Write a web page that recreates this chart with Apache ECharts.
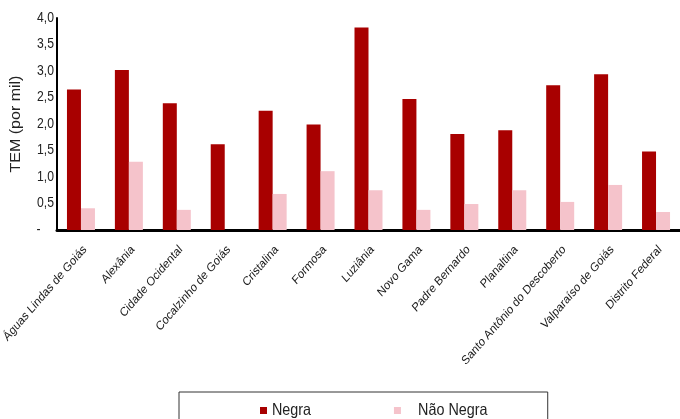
<!DOCTYPE html>
<html>
<head>
<meta charset="utf-8">
<script src="https://cdn.jsdelivr.net/npm/echarts@6/dist/echarts.min.js"></script>
<style>
  html, body { margin: 0; padding: 0; background: #fff; }
  #chart { width: 680px; height: 419px; }
</style>
</head>
<body>
<div id="chart"></div>
<script>
// Taxa específica de mortalidade (por mil), por município
const municipios = [
  'Águas Lindas de Goiás', 'Alexânia', 'Cidade Ocidental', 'Cocalzinho de Goiás',
  'Cristalina', 'Formosa', 'Luziânia', 'Novo Gama', 'Padre Bernardo',
  'Planaltina', 'Santo Antônio do Descoberto', 'Valparaíso de Goiás', 'Distrito Federal'
];
const negra    = [2.65, 3.02, 2.39, 1.62, 2.25, 1.99, 3.82, 2.47, 1.81, 1.88, 2.73, 2.94, 1.48];
const naoNegra = [0.41, 1.29, 0.38, 0,    0.68, 1.11, 0.75, 0.38, 0.49, 0.75, 0.53, 0.85, 0.34];
const yTicks = { min: 0, max: 4, step: 0.5 };
const yName = 'TEM (por mil)';
const seriesNames = ['Negra', 'Não Negra'];

const regular = '"Liberation Sans", Arial, sans-serif';
const zeroLabel = '-    ';
const fmtTick = v => v === 0 ? zeroLabel : v.toFixed(1).replace('.', ',');

const chart = echarts.init(document.getElementById('chart'), null, { renderer: 'canvas' });

chart.setOption({
  animation: false,
  backgroundColor: '#ffffff',
  grid: { left: 57, right: 0, top: 18, bottom: 189, containLabel: false, outerBoundsMode: 'none' },
  legend: {
    left: 179,
    top: 392,
    padding: [10, 48, 20, 81],
    itemWidth: 7,
    itemHeight: 7,
    itemGap: 77,
    borderColor: '#333333',
    borderWidth: 1,
    icon: 'rect',
    textStyle: { fontFamily: regular, fontSize: 16.5, color: '#222222' },
    data: [
      { name: seriesNames[0] },
      { name: seriesNames[1], textStyle: { padding: [0, 0, 0, 14] } }
    ]
  },
  xAxis: {
    type: 'category',
    data: municipios,
    axisLine: { show: true, lineStyle: { color: '#000000', width: 3 } },
    axisTick: { show: false },
    axisLabel: {
      interval: 0,
      rotate: 45,
      margin: 13,
      verticalAlign: 'top',
      fontFamily: regular,
      fontSize: 12.5,
      color: '#1a1a1a'
    }
  },
  yAxis: {
    type: 'value',
    min: yTicks.min,
    max: yTicks.max,
    interval: yTicks.step,
    name: yName,
    nameLocation: 'middle',
    nameRotate: 90,
    nameGap: 33,
    nameTextStyle: { fontFamily: regular, fontSize: 16, color: '#222222' },
    axisLine: { show: true, lineStyle: { color: '#000000', width: 2 } },
    axisTick: { show: false },
    splitLine: { show: false },
    axisLabel: {
      margin: 3,
      fontFamily: regular,
      fontSize: 14,
      color: '#222222',
      formatter: fmtTick
    }
  },
  series: [
    {
      name: seriesNames[0],
      type: 'bar',
      data: negra,
      barWidth: 14,
      barGap: '0%',
      itemStyle: { color: '#a80000' }
    },
    {
      name: seriesNames[1],
      type: 'bar',
      data: naoNegra,
      barWidth: 14,
      barGap: '0%',
      itemStyle: { color: '#f5c3cb' }
    }
  ]
});

// All chart text is set narrow: each text element gets a horizontal
// (screen-space) squeeze, expressed as scale + skew in its own rotated frame.
const SQUEEZE = 0.87;
const chartTexts = new Set([...municipios, yName, ...seriesNames]);
for (let v = yTicks.min; v <= yTicks.max + 1e-9; v += yTicks.step) {
  chartTexts.add(fmtTick(Math.round(v * 10) / 10));
}
function squeezeText(el, k) {
  const th = el.rotation || 0;
  const c = Math.cos(th), s = Math.sin(th);
  const sx = k * c * c + s * s;
  const sy = k * s * s + c * c;
  const off = (k - 1) * c * s;
  el.scaleX = sx;
  el.scaleY = sy;
  el.skewX = Math.atan(off / sy);
  el.skewY = -Math.atan(off / sx);
  el.originX = (el.style && el.style.x) || 0;
  el.originY = (el.style && el.style.y) || 0;
  el.markRedraw();
}
function narrowChartText() {
  const zr = chart.getZr();
  const walk = el => {
    if (el.type === 'text' && el.style && chartTexts.has(el.style.text)) {
      squeezeText(el, SQUEEZE);
    }
    if (el.isGroup) el.eachChild(walk);
  };
  zr.storage.getRoots().forEach(walk);
  zr.refreshImmediately();
}
narrowChartText();
chart.on('finished', narrowChartText);
</script>
</body>
</html>
